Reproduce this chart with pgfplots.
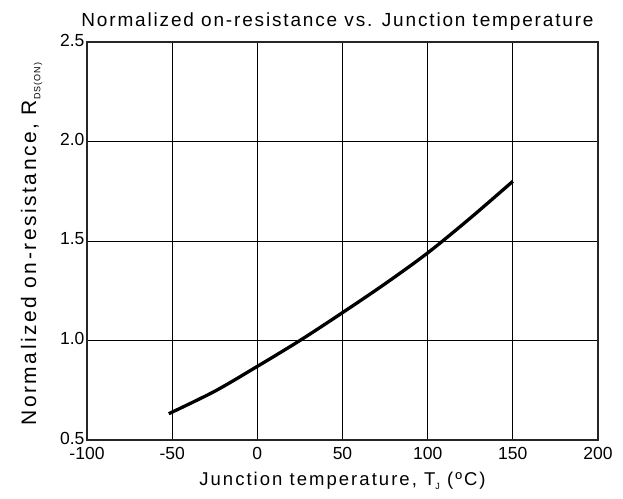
\documentclass[border=0pt]{standalone}
\usepackage{fontspec}
\setmainfont{Liberation Sans}
\newfontfamily\spacedT[LetterSpace=9.7]{Liberation Sans}
\newfontfamily\spacedX[LetterSpace=11]{Liberation Sans}
\newfontfamily\spacedY[LetterSpace=12]{Liberation Sans}
\usepackage{pgfplots}
\pgfplotsset{compat=1.18}
\begin{document}
\begin{tikzpicture}
\begin{axis}[
  scale only axis,
  width=511bp, height=398bp,
  xmin=-100, xmax=200, ymin=0.5, ymax=2.5,
  xtick={-100,-50,0,50,100,150,200},
  ytick={0.5,1.0,1.5,2.0,2.5},
  yticklabel style={xshift=1bp, yshift=2bp, /pgf/number format/fixed, /pgf/number format/fixed zerofill, /pgf/number format/precision=1},
  /pgf/number format/assume math mode=true,
  ticklabel style={font=\fontsize{17.5bp}{19bp}\selectfont},
  xticklabel style={yshift=-4bp},
  major tick length=0pt,
  grid=major,
  major grid style={black, line width=0.8bp},
  axis line style={line width=2.6bp, black!85},
  title={\spacedT Normalized on-resistance vs. Junction temperature},
  title style={font=\fontsize{19bp}{21bp}\selectfont, yshift=2bp, xshift=-5bp},
  xlabel={\spacedX Junction temperature, T\raisebox{-0.4ex}{\fontsize{9bp}{10bp}\selectfont J} (ºC)},
  xlabel style={font=\fontsize{18.5bp}{20bp}\selectfont, yshift=-5bp},
  ylabel={\spacedY Normalized on-resistance, R\raisebox{-0.4ex}{\fontsize{9bp}{10bp}\selectfont DS(ON)}},
  ylabel style={font=\fontsize{21bp}{23bp}\selectfont, yshift=11bp, xshift=-3bp},
]
\addplot[black, line width=3.3bp, smooth] coordinates {
(-52,0.632) (-25,0.745) (0,0.87) (25,1.0) (50,1.14) (75,1.285) (100,1.44) (125,1.615) (150,1.80)
};
\end{axis}
\pgfresetboundingbox
\path (current axis.south west) ++(-87bp,-59bp) coordinate (bl);
\path (current axis.north east) ++(25bp,42bp) coordinate (tr);
\path[use as bounding box] (bl) rectangle (tr);
\end{tikzpicture}
\end{document}
